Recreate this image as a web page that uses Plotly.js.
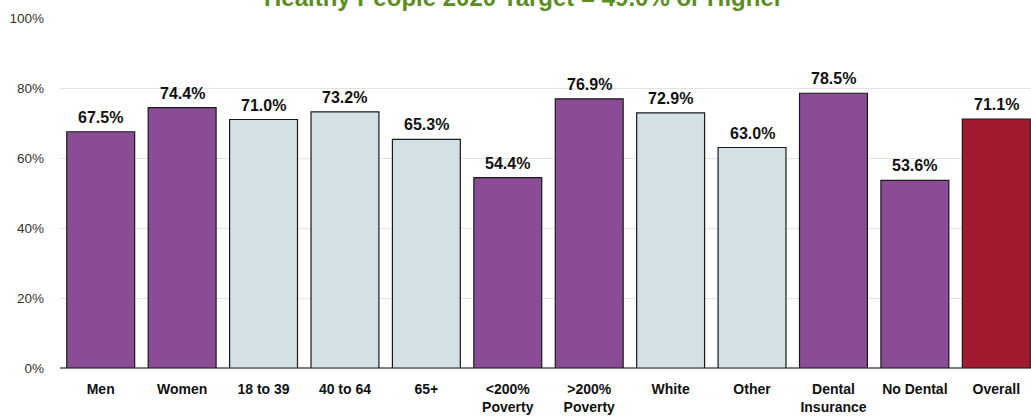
<!DOCTYPE html>
<html>
<head>
<meta charset="utf-8">
<script src="https://cdn.plot.ly/plotly-3.0.1.min.js"></script>
<style>html,body{margin:0;padding:0;overflow:hidden;background:#fff;}</style>
</head>
<body>
<div id="chart"></div>
<script>
const categories = ["Men", "Women", "18 to 39", "40 to 64", "65+", "&lt;200%<br>Poverty", "&gt;200%<br>Poverty", "White", "Other", "Dental<br>Insurance", "No Dental", "Overall"];
const values = [67.5, 74.4, 71.0, 73.2, 65.3, 54.4, 76.9, 72.9, 63.0, 78.5, 53.6, 71.1];
const labels = ["67.5%", "74.4%", "71.0%", "73.2%", "65.3%", "54.4%", "76.9%", "72.9%", "63.0%", "78.5%", "53.6%", "71.1%"];
const groups = ["sex", "sex", "age", "age", "age", "pov", "pov", "race", "race", "ins", "ins", "all"];
const titleText = "Healthy People 2020 Target = 49.0% or Higher";

const purple = "#8B4C96", light = "#D3E1E6", red = "#A11A2F";
const colorMap = {sex: purple, age: light, pov: purple, race: light, ins: purple, all: red};
const colors = groups.map(g => colorMap[g]);
const FONT = "Liberation Sans, Arial, sans-serif";

const trace = {
  type: "bar",
  x: categories,
  y: values,
  marker: {color: colors, line: {color: "#1a1a1a", width: 1.2}},
  hoverinfo: "none"
};

const valueLabels = categories.map((c, i) => ({
  text: "<b>" + labels[i] + "</b>",
  x: c, y: values[i],
  xref: "x", yref: "y",
  xanchor: "center", yanchor: "bottom",
  yshift: 4,
  showarrow: false,
  font: {family: FONT, size: 16, color: "#111"}
}));

const layout = {
  width: 1040,
  height: 418,
  margin: {l: 60, r: 3, t: 18, b: 50},
  paper_bgcolor: "#fff",
  plot_bgcolor: "#fff",
  bargap: 0.166,
  showlegend: false,
  font: {family: FONT, color: "#222"},
  xaxis: {
    type: "category",
    tickfont: {family: FONT, size: 14, color: "#111", weight: "bold"},
    showline: false,
    ticks: "",
    ticklabelstandoff: 11,
    fixedrange: true
  },
  yaxis: {
    range: [0, 100],
    tickvals: [0, 20, 40, 60, 80, 100],
    ticktext: ["0%", "20%", "40%", "60%", "80%", "100%"],
    tickfont: {family: FONT, size: 13.5, color: "#333"},
    showgrid: true,
    gridcolor: "#e3e3e3",
    gridwidth: 1,
    zeroline: true,
    zerolinecolor: "#808080",
    zerolinewidth: 1.2,
    ticklabelstandoff: 15,
    fixedrange: true
  },
  annotations: [{
    text: "<b>" + titleText + "</b>",
    xref: "paper", yref: "paper",
    x: 0.474, y: 1.015,
    xanchor: "center", yanchor: "bottom",
    showarrow: false,
    font: {family: FONT, size: 24, color: "#5B8E22"}
  }].concat(valueLabels)
};

Plotly.newPlot("chart", [trace], layout, {displayModeBar: false, staticPlot: true});
</script>
</body>
</html>
